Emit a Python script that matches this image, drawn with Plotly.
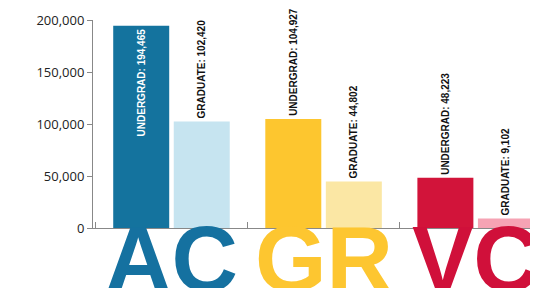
import plotly.graph_objects as go

campuses = ["AC", "GR", "VC"]
undergrad = [194465, 104927, 48223]
graduate = [102420, 44802, 9102]
under_colors = ["#14739E", "#FDC62F", "#D2143A"]
grad_colors = ["#C6E4F0", "#FBE7A4", "#F6A3B4"]
letter_colors = ["#1571A0", "#FDC630", "#D0103A"]
y_ticks = [0, 50000, 100000, 150000, 200000]

fig = go.Figure()
lab_font = dict(family="Liberation Sans Narrow, Liberation Sans, Arial", size=10, color="#111")
fig.add_trace(go.Bar(
    x=campuses, y=undergrad, marker=dict(color=under_colors, line=dict(width=0)),
    text=[f"UNDERGRAD: {v:,}" for v in undergrad],
    textposition=["inside", "outside", "outside"], textangle=-90,
    insidetextanchor="end",
    insidetextfont=dict(family=lab_font["family"], size=10, color="white"),
    outsidetextfont=lab_font, cliponaxis=False,
    texttemplate="<b>%{text}</b>",
))
fig.add_trace(go.Bar(
    x=campuses, y=graduate, marker=dict(color=grad_colors, line=dict(width=0)),
    text=[f"GRADUATE: {v:,}" for v in graduate],
    textposition="outside", textangle=-90,
    outsidetextfont=lab_font, cliponaxis=False,
    texttemplate="<b>%{text}</b>",
))

for c, col in zip(campuses, letter_colors):
    fig.add_annotation(x=c, y=0, yref="paper", yanchor="top", yshift=22,
                       text=f"<b>{c}</b>", showarrow=False,
                       font=dict(family="Liberation Sans, Arial", size=92, color=col))

fig.update_layout(
    width=530, height=280,
    margin=dict(l=85, r=0, t=12, b=60, autoexpand=False),
    paper_bgcolor="white", plot_bgcolor="white",
    barmode="group", bargap=0.204, bargroupgap=0.075,
    showlegend=False, uniformtext=dict(minsize=8, mode="show"),
    xaxis=dict(type="category", range=[-0.516, 2.41], showticklabels=False,
               automargin=False,
               showline=True, linecolor="#888", linewidth=1,
               ticks="inside", tickson="boundaries", ticklen=6, tickcolor="#888",
               showgrid=False, zeroline=False),
    yaxis=dict(range=[0, 200000], tickvals=y_ticks, tickformat=",",
               automargin=False,
               showline=True, linecolor="#888", linewidth=1,
               ticks="outside", ticklen=5, tickcolor="#888",
               showgrid=False, zeroline=False,
               tickfont=dict(family="Open Sans, Noto Sans", size=13, color="#222")),
)
fig.write_html("out.html")
